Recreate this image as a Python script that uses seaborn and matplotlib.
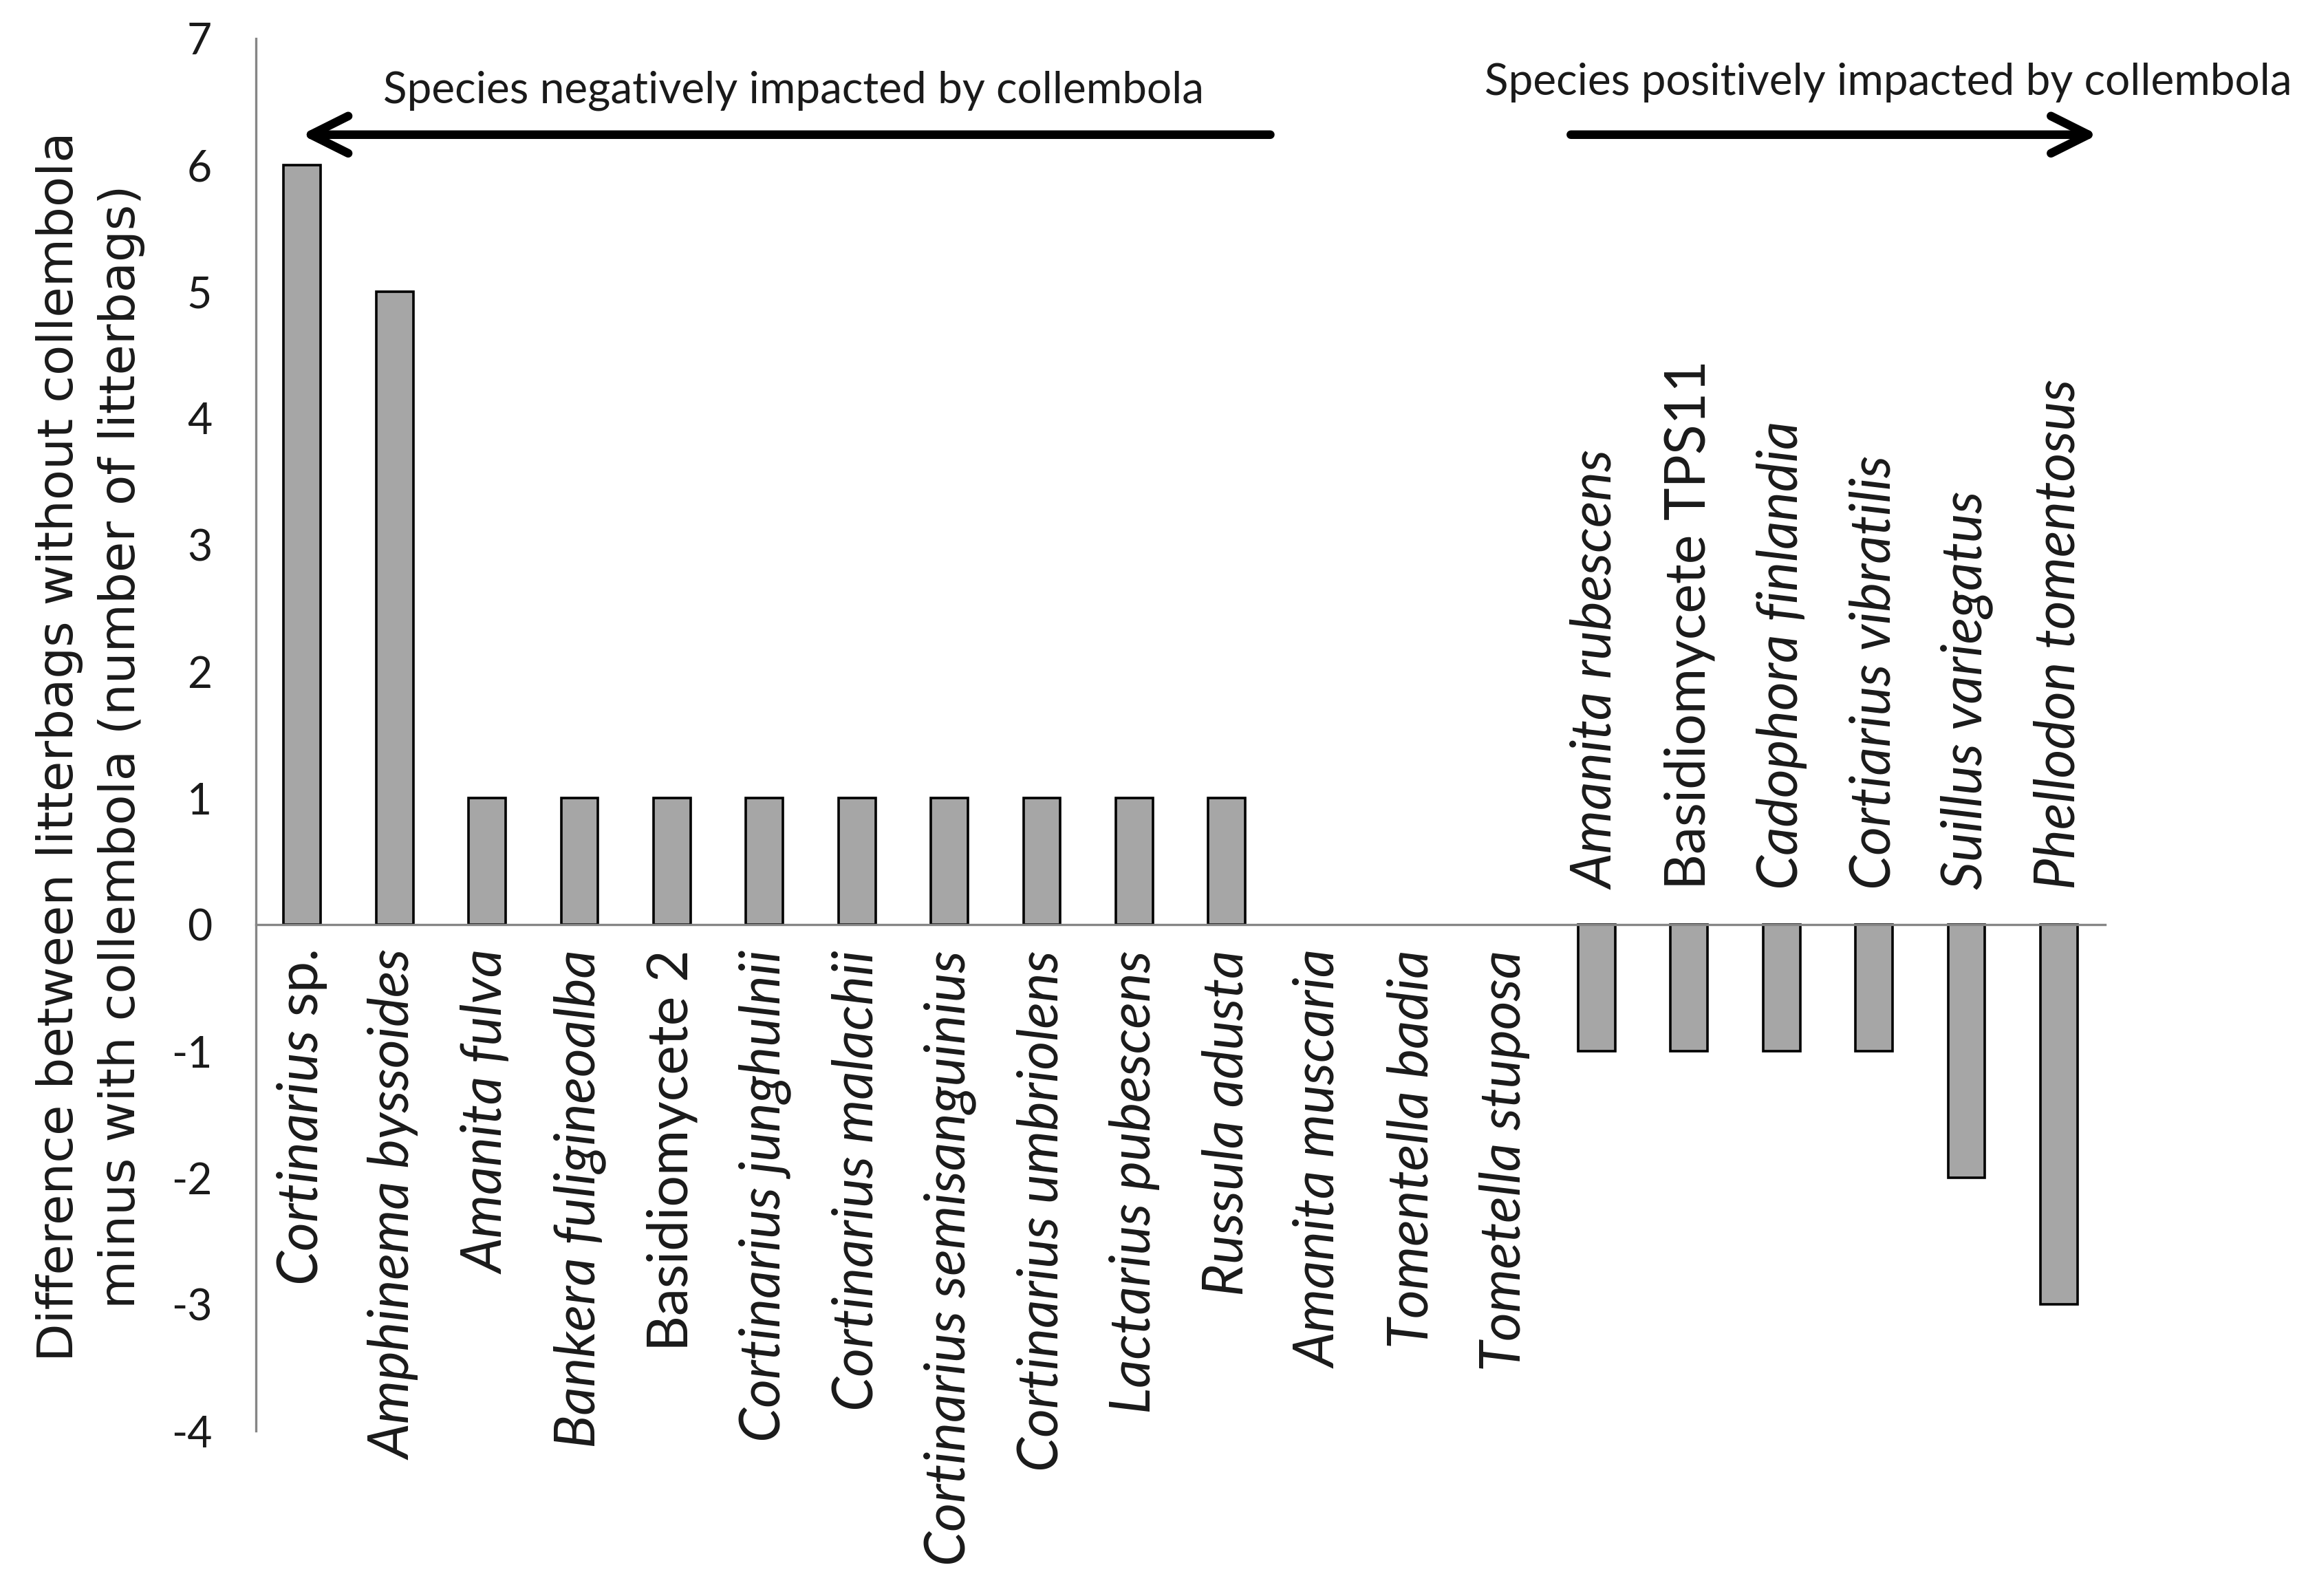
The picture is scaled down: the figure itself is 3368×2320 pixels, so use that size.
import numpy as np
import matplotlib
matplotlib.use("Agg")
import matplotlib.pyplot as plt
import seaborn as sns

# =========================
# DATA
# =========================

species = [
    "Cortinarius sp.", "Amphinema byssoides", "Amanita fulva",
    "Bankera fuligineoalba", "Basidiomycete 2", "Cortinarius junghulnii",
    "Cortinarius malachii", "Cortinarius semisanguinius",
    "Cortinarius umbriolens", "Lactarius pubescens", "Russula adusta",
    "Amanita muscaria", "Tomentella badia", "Tometella stuposa",
    "Amanita rubescens", "Basidiomycete TPS11", "Cadophora finlandia",
    "Cortiarius vibratilis", "Suillus variegatus", "Phellodon tomentosus",
]
diff = [6, 5, 1, 1, 1, 1, 1, 1, 1, 1, 1, 0, 0, 0, -1, -1, -1, -1, -2, -3]

# names that are not latin binomials (set upright)
roman = ["Basidiomycete 2", "Basidiomycete TPS11"]

yticks = [-4, -3, -2, -1, 0, 1, 2, 3, 4, 5, 6, 7]

ylabel = ("Difference between litterbags without collembola\n"
          "minus with collembola (number of litterbags)")
neg_text = "Species negatively impacted by collembola"
pos_text = "Species positively impacted by collembola"

# =========================
# STYLE
# =========================

sns.set_style("white")
plt.rcParams["font.family"] = ["Lato", "DejaVu Sans"]
plt.rcParams["mathtext.fontset"] = "custom"
plt.rcParams["mathtext.rm"] = "Lato"
plt.rcParams["mathtext.it"] = "Lato:italic"

AXIS_GREY = "#868686"
TEXT = "#1a1a1a"

fig = plt.figure(figsize=(33.68, 23.2), dpi=100)
ax = fig.add_axes([0.1105, 0.1034, 0.7981, 0.8725])

# =========================
# BARS
# =========================

sns.barplot(x=species, y=diff, color="#A6A6A6", saturation=1,
            edgecolor="black", linewidth=2.6, width=0.4, ax=ax)

# zero-height bars leave no mark
for p in ax.patches:
    if p.get_height() == 0:
        p.set_linewidth(0)

ax.set_xlim(-0.5, len(species) - 0.5)
ax.set_ylim(-4, 7)

# =========================
# AXES
# =========================

for s in ["top", "right"]:
    ax.spines[s].set_visible(False)
ax.spines["bottom"].set_position(("data", 0))
for s in ["left", "bottom"]:
    ax.spines[s].set_color(AXIS_GREY)
    ax.spines[s].set_linewidth(2.4)

ax.set_yticks(yticks)
ax.set_yticklabels([str(t) for t in yticks])
ax.tick_params(axis="y", direction="out", length=16, width=2.2,
               color=AXIS_GREY, pad=30, labelsize=45, labelcolor=TEXT)

ax.set_xticks(np.arange(-0.5, len(species), 1))
ax.set_xticklabels([])
ax.tick_params(axis="x", direction="out", length=14, width=2.2,
               color=AXIS_GREY)
ax.set_xlabel("")

# category labels: below the axis for positive / zero bars,
# above the axis for negative bars
for i, (name, v) in enumerate(zip(species, diff)):
    if name in roman:
        lbl, style = name, "normal"
    elif name.endswith(" sp."):
        lbl, style = r"$\mathit{" + name[:-4] + "}$ sp.", "normal"
    else:
        lbl, style = name, "italic"
    if v < 0:
        ax.text(i, 0.28, lbl, rotation=90, ha="center", va="bottom",
                fontsize=58, style=style, color=TEXT)
    else:
        ax.text(i, -0.2, lbl, rotation=90, ha="center", va="top",
                fontsize=58, style=style, color=TEXT)

ax.set_ylabel(ylabel, fontsize=52, family="DejaVu Sans", color=TEXT,
              linespacing=1.38, ha="center", va="center")
ax.yaxis.set_label_coords(-0.0896, 0.4916)

# =========================
# ARROWS
# =========================

arrow = dict(arrowstyle="->,head_length=1.3,head_width=0.65", lw=9,
             color="black", mutation_scale=30, shrinkA=0, shrinkB=0)
ax.annotate("", xy=(-0.01, 6.24), xytext=(10.47, 6.24), arrowprops=arrow)
ax.annotate("", xy=(19.42, 6.24), xytext=(13.72, 6.24), arrowprops=arrow)

ax.text(5.31, 6.59, neg_text, ha="center", va="center", fontsize=46,
        color=TEXT)
ax.text(17.15, 6.65, pos_text, ha="center", va="center", fontsize=46,
        color=TEXT, clip_on=False)

plt.savefig("out.png", dpi=100)
